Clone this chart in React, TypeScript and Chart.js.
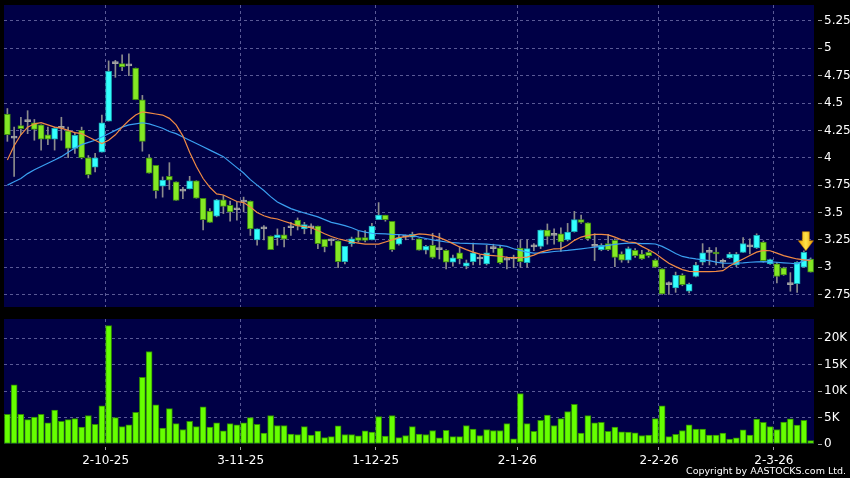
import React, { useEffect, useRef } from 'react';
import { Chart, registerables } from 'chart.js';

Chart.register(...registerables);

// ---------- data ----------
const dates = [
  '10-9-25', '11-9-25', '12-9-25', '15-9-25', '16-9-25', '17-9-25', '18-9-25', '19-9-25', '22-9-25', '23-9-25',
  '24-9-25', '25-9-25', '26-9-25', '29-9-25', '30-9-25',
  '2-10-25', '3-10-25', '6-10-25', '8-10-25', '9-10-25', '10-10-25', '13-10-25', '14-10-25', '15-10-25', '16-10-25',
  '17-10-25', '20-10-25', '21-10-25', '22-10-25', '23-10-25', '24-10-25', '27-10-25', '28-10-25', '30-10-25', '31-10-25',
  '3-11-25', '4-11-25', '5-11-25', '6-11-25', '7-11-25', '10-11-25', '11-11-25', '12-11-25', '13-11-25', '14-11-25',
  '17-11-25', '18-11-25', '19-11-25', '20-11-25', '21-11-25', '24-11-25', '25-11-25', '26-11-25', '27-11-25', '28-11-25',
  '1-12-25', '2-12-25', '3-12-25', '4-12-25', '5-12-25', '8-12-25', '9-12-25', '10-12-25', '11-12-25', '12-12-25',
  '15-12-25', '16-12-25', '17-12-25', '18-12-25', '19-12-25', '22-12-25', '23-12-25', '24-12-25', '29-12-25', '30-12-25', '31-12-25',
  '2-1-26', '5-1-26', '6-1-26', '7-1-26', '8-1-26', '9-1-26', '12-1-26', '13-1-26', '14-1-26', '15-1-26',
  '16-1-26', '19-1-26', '20-1-26', '21-1-26', '22-1-26', '23-1-26', '26-1-26', '27-1-26', '28-1-26', '29-1-26', '30-1-26',
  '2-2-26', '3-2-26', '4-2-26', '5-2-26', '6-2-26', '9-2-26', '10-2-26', '11-2-26', '12-2-26', '13-2-26',
  '16-2-26', '20-2-26', '23-2-26', '24-2-26', '25-2-26', '26-2-26', '27-2-26',
  '2-3-26', '3-3-26', '4-3-26', '5-3-26', '6-3-26', '9-3-26',
];

const opens = [
  4.40, 4.18, 4.295, 4.33, 4.32, 4.30, 4.21, 4.17, 4.27, 4.245,
  4.085, 4.25, 4.00, 3.915, 4.05, 4.335, 4.86, 4.86, 4.84, 4.82,
  4.53, 4.00, 3.93, 3.74, 3.83, 3.78, 3.695, 3.715, 3.79, 3.63,
  3.51, 3.465, 3.615, 3.565, 3.525, 3.595, 3.605, 3.25, 3.35, 3.285,
  3.27, 3.295, 3.36, 3.43, 3.35, 3.36, 3.375, 3.255, 3.24, 3.24,
  3.05, 3.215, 3.27, 3.27, 3.25, 3.435, 3.475, 3.42, 3.21, 3.275,
  3.275, 3.26, 3.155, 3.20, 3.16, 3.155, 3.045, 3.13, 3.01, 3.05,
  3.075, 3.03, 3.17, 3.175, 3.065, 3.075, 3.175, 3.04, 3.185, 3.19,
  3.34, 3.29, 3.305, 3.25, 3.325, 3.435, 3.405, 3.19, 3.16, 3.215,
  3.245, 3.12, 3.065, 3.155, 3.12, 3.135, 3.065, 2.985, 2.84, 2.81,
  2.925, 2.78, 2.915, 3.045, 3.135, 3.135, 3.045, 3.085, 3.02, 3.135,
  3.185, 3.175, 3.23, 3.03, 3.03, 2.995, 2.84, 2.85, 3.00, 3.075,
];

const highs = [
  4.45, 4.28, 4.37, 4.43, 4.35, 4.30, 4.28, 4.28, 4.37, 4.28,
  4.23, 4.28, 4.02, 4.04, 4.39, 4.885, 4.89, 4.94, 4.95, 4.82,
  4.57, 4.03, 3.93, 3.825, 3.955, 3.78, 3.73, 3.83, 3.79, 3.63,
  3.535, 3.62, 3.655, 3.605, 3.595, 3.64, 3.605, 3.35, 3.38, 3.285,
  3.35, 3.365, 3.41, 3.45, 3.41, 3.395, 3.375, 3.255, 3.26, 3.24,
  3.19, 3.275, 3.33, 3.335, 3.40, 3.59, 3.475, 3.42, 3.295, 3.295,
  3.32, 3.26, 3.20, 3.31, 3.31, 3.16, 3.11, 3.185, 3.065, 3.22,
  3.11, 3.20, 3.21, 3.20, 3.095, 3.11, 3.25, 3.25, 3.215, 3.34,
  3.395, 3.35, 3.36, 3.40, 3.51, 3.475, 3.405, 3.305, 3.215, 3.30,
  3.26, 3.14, 3.185, 3.17, 3.155, 3.155, 3.075, 2.985, 2.865, 2.955,
  2.94, 2.855, 3.045, 3.215, 3.18, 3.18, 3.075, 3.135, 3.135, 3.27,
  3.26, 3.305, 3.24, 3.075, 3.045, 3.00, 2.95, 3.05, 3.15, 3.085,
];

const lows = [
  4.15, 3.83, 4.21, 4.22, 4.16, 4.07, 4.12, 4.07, 4.16, 4.00,
  4.04, 3.99, 3.815, 3.87, 4.05, 4.335, 4.735, 4.795, 4.75, 4.53,
  4.06, 3.86, 3.63, 3.64, 3.71, 3.61, 3.625, 3.715, 3.63, 3.34,
  3.41, 3.46, 3.49, 3.42, 3.43, 3.505, 3.29, 3.20, 3.25, 3.16,
  3.20, 3.185, 3.29, 3.34, 3.305, 3.305, 3.168, 3.14, 3.20, 2.995,
  3.03, 3.19, 3.23, 3.23, 3.25, 3.435, 3.42, 3.145, 3.20, 3.25,
  3.25, 3.155, 3.12, 3.08, 3.075, 2.985, 3.01, 3.03, 2.985, 3.02,
  3.02, 3.02, 3.135, 3.03, 2.985, 2.995, 3.00, 3.00, 3.15, 3.17,
  3.21, 3.21, 3.145, 3.24, 3.32, 3.40, 3.245, 3.06, 3.15, 3.15,
  3.005, 3.045, 3.04, 3.09, 3.07, 3.09, 2.995, 2.75, 2.75, 2.77,
  2.83, 2.765, 2.91, 3.02, 3.02, 3.02, 2.995, 3.08, 3.005, 3.135,
  3.12, 3.17, 3.045, 3.025, 2.855, 2.925, 2.78, 2.77, 3.00, 2.955,
];

const closes = [
  4.21, 4.18, 4.265, 4.33, 4.26, 4.17, 4.17, 4.27, 4.27, 4.085,
  4.205, 4.00, 3.845, 4.00, 4.32, 4.79, 4.86, 4.83, 4.84, 4.53,
  4.15, 3.86, 3.70, 3.795, 3.795, 3.61, 3.695, 3.79, 3.63, 3.435,
  3.41, 3.615, 3.555, 3.505, 3.525, 3.595, 3.35, 3.35, 3.35, 3.16,
  3.295, 3.255, 3.36, 3.375, 3.39, 3.36, 3.215, 3.185, 3.24, 3.05,
  3.19, 3.26, 3.245, 3.245, 3.375, 3.475, 3.435, 3.16, 3.27, 3.275,
  3.30, 3.155, 3.19, 3.09, 3.16, 3.045, 3.085, 3.075, 3.04, 3.13,
  3.075, 3.13, 3.17, 3.04, 3.065, 3.075, 3.05, 3.17, 3.185, 3.34,
  3.28, 3.29, 3.23, 3.32, 3.435, 3.41, 3.26, 3.19, 3.20, 3.16,
  3.09, 3.065, 3.17, 3.105, 3.075, 3.105, 3.00, 2.755, 2.84, 2.925,
  2.84, 2.845, 3.02, 3.13, 3.135, 3.12, 3.045, 3.12, 3.12, 3.215,
  3.185, 3.29, 3.06, 3.07, 2.915, 2.93, 2.84, 3.045, 3.135, 2.955,
];

const ma10 = [
  3.98, 4.11, 4.21, 4.28, 4.31, 4.32, 4.30, 4.28, 4.27, 4.25,
  4.23, 4.22, 4.19, 4.16, 4.13, 4.16, 4.21, 4.28, 4.34, 4.39,
  4.42, 4.41, 4.40, 4.39, 4.36, 4.30, 4.20, 4.05, 3.92, 3.81,
  3.73, 3.67, 3.66, 3.63, 3.60, 3.59, 3.55, 3.50, 3.47, 3.45,
  3.44, 3.42, 3.40, 3.38, 3.37, 3.36, 3.335, 3.305, 3.28, 3.26,
  3.245, 3.23, 3.22, 3.21, 3.21, 3.21, 3.23, 3.25, 3.27, 3.28,
  3.29, 3.305, 3.30, 3.29, 3.27, 3.245, 3.215, 3.185, 3.16, 3.137,
  3.12, 3.11, 3.105, 3.10, 3.09, 3.088, 3.088, 3.092, 3.11, 3.137,
  3.153, 3.168, 3.17, 3.20, 3.245, 3.275, 3.29, 3.30, 3.30, 3.295,
  3.275, 3.25, 3.23, 3.225, 3.19, 3.16, 3.125, 3.08, 3.035, 3.005,
  2.978, 2.962, 2.96, 2.96, 2.96, 2.962, 2.968, 3.01, 3.045, 3.075,
  3.106, 3.137, 3.153, 3.15, 3.128, 3.105, 3.09, 3.075, 3.067, 3.06,
];

const ma20 = [
  3.75, 3.78, 3.81, 3.855, 3.89, 3.92, 3.95, 3.98, 4.01, 4.05,
  4.09, 4.12, 4.14, 4.16, 4.19, 4.22, 4.25, 4.28, 4.30, 4.31,
  4.32, 4.31, 4.29, 4.27, 4.24, 4.22, 4.19, 4.16, 4.13, 4.10,
  4.07, 4.04, 4.01, 3.96, 3.91, 3.86, 3.80, 3.75, 3.70, 3.645,
  3.595, 3.565, 3.535, 3.515, 3.495, 3.478, 3.46, 3.435, 3.41, 3.395,
  3.38, 3.36, 3.335, 3.32, 3.31, 3.307, 3.305, 3.30, 3.297, 3.292,
  3.29, 3.275, 3.262, 3.25, 3.24, 3.23, 3.225, 3.22, 3.218, 3.215,
  3.213, 3.21, 3.205, 3.20, 3.19, 3.168, 3.153, 3.137, 3.128, 3.13,
  3.135, 3.143, 3.148, 3.153, 3.16, 3.168, 3.175, 3.183, 3.19, 3.20,
  3.208, 3.215, 3.22, 3.22, 3.215, 3.215, 3.212, 3.19, 3.16, 3.125,
  3.098, 3.085, 3.075, 3.067, 3.06, 3.046, 3.037, 3.036, 3.038, 3.04,
  3.045, 3.048, 3.05, 3.048, 3.045, 3.04, 3.036, 3.03, 3.06, 3.075,
];

const volumes = [
  5600, 11200, 5600, 4600, 5100, 5600, 4000, 6400, 4300, 4600,
  4800, 3200, 5400, 3700, 7200, 22400, 5000, 3300, 3650, 6000,
  12600, 17500, 7400, 3000, 6700, 3850, 2750, 4300, 3300, 7050,
  3200, 4000, 2500, 3850, 3650, 4000, 5000, 3700, 2050, 5400,
  3500, 3500, 1900, 1800, 3300, 1700, 2450, 1200, 1400, 3450,
  1800, 1800, 1550, 2500, 2250, 5200, 1500, 5400, 1200, 1600,
  3300, 1900, 1800, 2550, 1150, 2600, 1400, 1400, 3500, 2800,
  1600, 2750, 2550, 2550, 3850, 1000, 9550, 3850, 2400, 4500,
  5450, 3500, 4800, 6150, 7500, 2050, 5400, 4000, 4100, 2400,
  3200, 2300, 2250, 2100, 1600, 1700, 4800, 7200, 1400, 1850,
  2550, 3650, 2800, 2800, 1700, 1700, 2050, 950, 1150, 2700,
  1700, 4700, 4100, 3300, 2750, 4150, 4750, 3600, 4500, 650,
];

const tickLabels = ['2-10-25', '3-11-25', '1-12-25', '2-1-26', '2-2-26', '2-3-26'];
const priceTicks = [2.75, 3, 3.25, 3.5, 3.75, 4, 4.25, 4.5, 4.75, 5, 5.25];
const volumeTicks = [0, 5000, 10000, 15000, 20000];
const markerDate = '6-3-26';

// ---------- styles ----------
const FONT = 'DejaVu Sans';
const NAVY = '#000046';
const GRID = '#5a5a96';
const TICK = '#a0a0a0';
const UP_FILL = '#33ffff';
const UP_BORDER = '#1aa8b4';
const DOWN_FILL = '#84e824';
const DOWN_BORDER = '#3f8a12';
const DOJI = '#a4a4a4';
const WICK = '#8c8c8c';
const MA10_COLOR = '#f08a44';
const MA20_COLOR = '#3a9ff0';
const VOL_FILL = '#66ff00';
const VOL_BORDER = '#2f8c00';

const isShownTick = (i: number) => i >= 0 && i < dates.length && tickLabels.includes(dates[i]);

const noPad = (s: any) => {
  s.paddingTop = 0;
  s.paddingBottom = 0;
  s.paddingLeft = 0;
  s.paddingRight = 0;
};

const plotBg = {
  id: 'plotBg',
  beforeDraw(chart: any) {
    const { ctx, chartArea } = chart;
    ctx.save();
    ctx.fillStyle = NAVY;
    ctx.fillRect(chartArea.left, chartArea.top, chartArea.right - chartArea.left, chartArea.bottom - chartArea.top);
    ctx.restore();
  },
};

const markerPlugin = {
  id: 'marker',
  afterDatasetsDraw(chart: any) {
    const idx = dates.indexOf(markerDate);
    if (idx < 0) return;
    const x = chart.scales.x.getPixelForValue(idx) + 2;
    const tip = chart.scales.y.getPixelForValue(highs[idx]);
    const ctx = chart.ctx;
    ctx.save();
    const g = ctx.createLinearGradient(x - 7.5, 0, x + 7.5, 0);
    g.addColorStop(0, '#f0a400');
    g.addColorStop(0.5, '#ffe24a');
    g.addColorStop(1, '#e89800');
    ctx.beginPath();
    ctx.moveTo(x - 3.5, tip - 19);
    ctx.lineTo(x + 3.5, tip - 19);
    ctx.lineTo(x + 3.5, tip - 10);
    ctx.lineTo(x + 7.5, tip - 10);
    ctx.lineTo(x, tip);
    ctx.lineTo(x - 7.5, tip - 10);
    ctx.lineTo(x - 3.5, tip - 10);
    ctx.closePath();
    ctx.fillStyle = g;
    ctx.fill();
    ctx.strokeStyle = '#c88000';
    ctx.lineWidth = 0.6;
    ctx.stroke();
    ctx.restore();
  },
};

export default function App() {
  const priceRef = useRef<HTMLCanvasElement | null>(null);
  const volRef = useRef<HTMLCanvasElement | null>(null);

  useEffect(() => {
    document.body.style.margin = '0';
    document.body.style.background = '#000';

    const bodies = opens.map((o, i) => [o, closes[i]]);
    const wicks = lows.map((l, i) => [l, highs[i]]);
    const bodyFill = opens.map((o, i) => (closes[i] > o ? UP_FILL : closes[i] < o ? DOWN_FILL : DOJI));
    const bodyBorder = opens.map((o, i) => (closes[i] > o ? UP_BORDER : closes[i] < o ? DOWN_BORDER : DOJI));

    const xGridColor = (ctx: any) => (isShownTick(ctx.index) ? GRID : 'rgba(0,0,0,0)');

    const price = new Chart(priceRef.current as HTMLCanvasElement, {
      type: 'bar',
      data: {
        labels: dates,
        datasets: [
          {
            type: 'line',
            label: 'SMA10',
            data: ma10,
            borderColor: MA10_COLOR,
            borderWidth: 1.2,
            pointRadius: 0,
            tension: 0,
            order: 0,
          } as any,
          {
            type: 'line',
            label: 'SMA20',
            data: ma20,
            borderColor: MA20_COLOR,
            borderWidth: 1.2,
            pointRadius: 0,
            tension: 0,
            order: 0,
          } as any,
          {
            type: 'bar',
            label: 'Body',
            data: bodies,
            backgroundColor: bodyFill,
            borderColor: bodyBorder,
            borderWidth: 1,
            borderSkipped: false,
            barThickness: 6,
            minBarLength: 2,
            grouped: false,
            order: 1,
          } as any,
          {
            type: 'bar',
            label: 'Wick',
            data: wicks,
            backgroundColor: WICK,
            borderWidth: 0,
            barThickness: 1,
            grouped: false,
            order: 2,
          } as any,
        ],
      },
      options: {
        responsive: false,
        animation: false,
        events: [],
        layout: { padding: { left: 4, top: 5, right: 0, bottom: 3 } },
        plugins: { legend: { display: false }, tooltip: { enabled: false } },
        scales: {
          x: {
            type: 'category',
            offset: true,
            border: { display: false, dash: [3, 3] },
            grid: { offset: true, color: xGridColor, lineWidth: 1, drawTicks: false },
            ticks: { display: false, autoSkip: false },
            afterFit: (s: any) => { s.height = 0; noPad(s); },
          },
          y: {
            position: 'right',
            min: 2.636,
            max: 5.396,
            border: { display: false, dash: [3, 3] },
            grid: {
              color: GRID,
              lineWidth: 1,
              drawTicks: true,
              tickLength: 8,
              tickColor: TICK,
              tickWidth: 1,
              tickBorderDash: [0, 4, 4, 100],
            },
            afterBuildTicks: (s: any) => { s.ticks = priceTicks.map((v) => ({ value: v })); },
            afterFit: (s: any) => { s.width = 36; noPad(s); },
            ticks: {
              color: '#ffffff',
              padding: 2,
              font: { family: FONT, size: 12 },
              callback: (v: any) => String(v),
            },
          },
        },
      } as any,
      plugins: [plotBg, markerPlugin],
    });

    const volume = new Chart(volRef.current as HTMLCanvasElement, {
      type: 'bar',
      data: {
        labels: dates,
        datasets: [
          {
            label: 'Volume',
            data: volumes,
            backgroundColor: VOL_FILL,
            borderColor: VOL_BORDER,
            borderWidth: 1,
            borderSkipped: false,
            barThickness: 6,
          },
        ],
      },
      options: {
        responsive: false,
        animation: false,
        events: [],
        layout: { padding: { left: 4, top: 9, right: 0, bottom: 0 } },
        plugins: { legend: { display: false }, tooltip: { enabled: false } },
        scales: {
          x: {
            type: 'category',
            offset: true,
            border: { display: false, dash: [3, 3] },
            grid: {
              offset: true,
              color: xGridColor,
              lineWidth: 1,
              drawTicks: true,
              tickLength: 6,
              tickColor: (ctx: any) => (isShownTick(ctx.index) ? TICK : 'rgba(0,0,0,0)'),
              tickBorderDash: [0, 3, 3, 100],
            },
            ticks: {
              autoSkip: false,
              maxRotation: 0,
              minRotation: 0,
              padding: 4,
              labelOffset: -3,
              color: '#ffffff',
              font: { family: FONT, size: 12 },
              callback: (_v: any, i: number) => (isShownTick(i) ? dates[i] : ''),
            },
            afterFit: (s: any) => { s.height = 34; noPad(s); },
          },
          y: {
            position: 'right',
            min: 0,
            max: 23650,
            border: { display: false, dash: [3, 3] },
            grid: {
              color: (ctx: any) => (ctx.tick && ctx.tick.value === 0 ? 'rgba(0,0,0,0)' : GRID),
              lineWidth: 1,
              drawTicks: true,
              tickLength: 8,
              tickColor: TICK,
              tickWidth: 1,
              tickBorderDash: [0, 4, 4, 100],
            },
            afterBuildTicks: (s: any) => { s.ticks = volumeTicks.map((v) => ({ value: v })); },
            afterFit: (s: any) => { s.width = 36; noPad(s); },
            ticks: {
              color: '#ffffff',
              padding: 2,
              font: { family: FONT, size: 12 },
              callback: (v: any) => (v === 0 ? '0' : `${v / 1000}K`),
            },
          },
        },
      } as any,
      plugins: [plotBg],
    });

    return () => {
      price.destroy();
      volume.destroy();
    };
  }, []);

  return (
    <div
      style={{
        position: 'fixed',
        left: 0,
        top: 0,
        width: 850,
        height: 478,
        background: '#000',
        overflow: 'hidden',
      }}
    >
      <canvas ref={priceRef} width={850} height={310} style={{ position: 'absolute', left: 0, top: 0, display: 'block' }} />
      <canvas ref={volRef} width={850} height={168} style={{ position: 'absolute', left: 0, top: 310, display: 'block' }} />
      <div
        style={{
          position: 'absolute',
          right: 4,
          top: 466,
          fontFamily: FONT,
          fontSize: 9.5,
          lineHeight: 1,
          color: '#ffffff',
          whiteSpace: 'nowrap',
        }}
      >
        Copyright by AASTOCKS.com Ltd.
      </div>
    </div>
  );
}
